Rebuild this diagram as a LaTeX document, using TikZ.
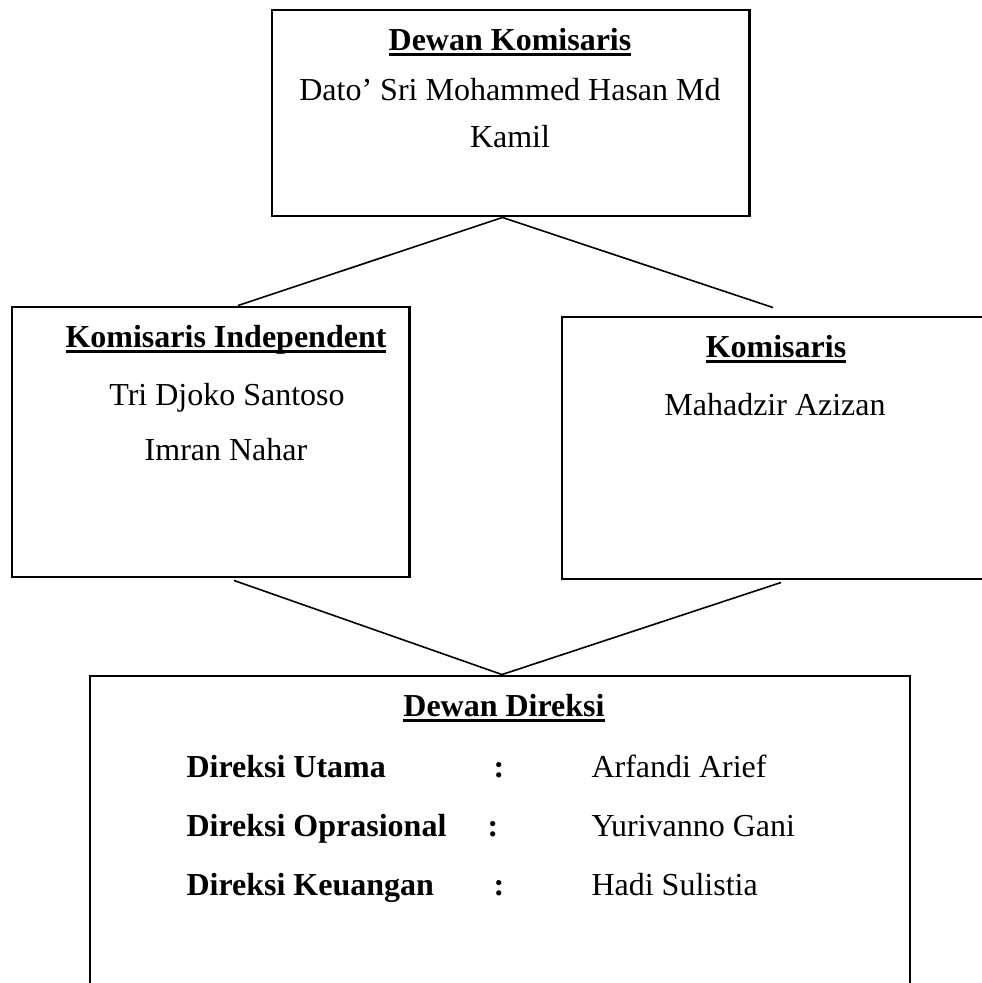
\documentclass[tikz,border=0pt]{standalone}
\usepackage{fontspec}
\setmainfont{Liberation Serif}
\usetikzlibrary{calc}

\newlength\hdw
\newcommand{\hd}[1]{\settowidth\hdw{\textbf{#1}}\textbf{#1}\llap{\rule[-2.4pt]{\hdw}{1.1pt}}}

\tikzset{
  box/.style={draw, line width=1.1pt, inner sep=0pt},
  link/.style={line width=0.6pt},
  txt/.style={anchor=base, inner sep=0pt, font=\fontsize{12}{17.6}\selectfont},
  lft/.style={txt, anchor=base west},
}

\begin{document}
\begin{tikzpicture}[x=0.375pt, y=-0.375pt]
\useasboundingbox (0,0) rectangle (982,983);
\clip (0,0) rectangle (982,983);

% boxes
\node[box, minimum width=178.9pt, minimum height=77.25pt] (dk) at (510.5,113) {};
\node[box, minimum width=148.9pt, minimum height=101.25pt] (ki) at (210.5,442) {};
\node[box, minimum width=160.5pt, minimum height=98.25pt] (kom) at (776,448) {};
\node[box, minimum width=307.5pt, minimum height=125.25pt] (dd) at (500,843) {};

% Dewan Komisaris
\node[txt] (dkh) at (510,50) {\hd{Dewan Komisaris}};
\node[txt] (dkn1) at (510,100) {Dato’ Sri Mohammed Hasan Md};
\node[txt] (dkn2) at (510,147) {Kamil};

% Komisaris Independent
\node[txt] (kih) at (226,347) {\hd{Komisaris Independent}};
\node[txt] (kin1) at (227,405) {Tri Djoko Santoso};
\node[txt] (kin2) at (226,460) {Imran Nahar};

% Komisaris
\node[txt] (komh) at (776,357) {\hd{Komisaris}};
\node[txt] (komn) at (775,415) {Mahadzir Azizan};

% Dewan Direksi
\node[txt] (ddh) at (504,716) {\hd{Dewan Direksi}};
\node[lft] (r1) at (186,777) {\textbf{Direksi Utama}};
\node[lft] (r2) at (186,836) {\textbf{Direksi Oprasional}};
\node[lft] (r3) at (186,895) {\textbf{Direksi Keuangan}};
\node[txt] (c1) at (499,777) {\textbf{:}};
\node[txt] (c2) at (493,836) {\textbf{:}};
\node[txt] (c3) at (499,895) {\textbf{:}};
\node[lft] (n1) at (591,777) {Arfandi Arief};
\node[lft] (n2) at (591,836) {Yurivanno Gani};
\node[lft] (n3) at (591,895) {Hadi Sulistia};

% connectors
\coordinate (up) at ([xshift=-3pt]dk.south);
\coordinate (kiT) at ([xshift=10.3pt]ki.north);
\coordinate (komT) at ([xshift=-1.1pt,yshift=3pt]kom.north);
\coordinate (kiB) at ([xshift=8.8pt,yshift=-0.75pt]ki.south);
\coordinate (komB) at ([xshift=1.9pt,yshift=-0.75pt]kom.south);
\coordinate (down) at ([xshift=0.75pt]dd.north);

\draw[link] (up) -- (kiT);
\draw[link] (up) -- (komT);
\draw[link] (kiB) -- (down);
\draw[link] (komB) -- (down);
\end{tikzpicture}
\end{document}
